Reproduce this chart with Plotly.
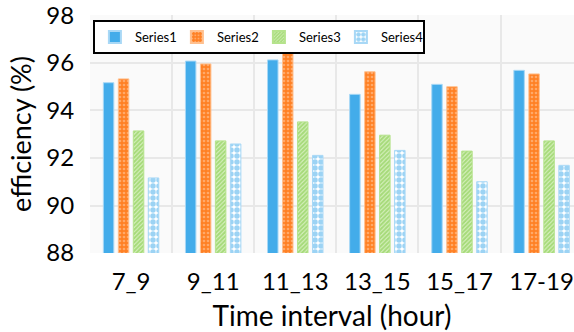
import plotly.graph_objects as go

# Time intervals (hours) and efficiency values (%) for each series
categories = ["7_9", "9_11", "11_13", "13_15", "15_17", "17-19"]
series1 = [95.17, 96.08, 96.13, 94.68, 95.10, 95.69]
series2 = [95.33, 95.96, 96.40, 95.63, 95.00, 95.54]
series3 = [93.14, 92.72, 93.52, 92.96, 92.29, 92.72]
series4 = [91.16, 92.59, 92.11, 92.32, 91.00, 91.69]
y_ticks = [88, 90, 92, 94, 96, 98]

FONT = "Lato"

fig = go.Figure()

fig.add_bar(
    name="Series1", x=categories, y=series1,
    marker=dict(color="#43ACEA", line=dict(color="#A8D8F6", width=1)),
)
fig.add_bar(
    name="Series2", x=categories, y=series2,
    marker=dict(
        color="#FF8024",
        line=dict(color="#FFC08F", width=1),
        pattern=dict(shape=".", fillmode="overlay", fgcolor="#FFD2AE",
                     size=4, solidity=0.35),
    ),
)
fig.add_bar(
    name="Series3", x=categories, y=series3,
    marker=dict(
        color="#DDF2C8",
        line=dict(color="#B5E38C", width=1),
        pattern=dict(shape="/", fillmode="overlay", fgcolor="#70C42C",
                     size=3, solidity=0.7),
    ),
)
fig.add_bar(
    name="Series4", x=categories, y=series4,
    marker=dict(
        color="#FFFFFF",
        line=dict(color="#A8D8F6", width=1),
        pattern=dict(shape=".", fillmode="overlay", fgcolor="#3AA8EA",
                     size=6, solidity=0.65),
    ),
)

fig.update_layout(
    width=574, height=332,
    margin=dict(l=90, r=0, t=15, b=79),
    paper_bgcolor="white",
    plot_bgcolor="#FAFAFA",
    barmode="group",
    bargap=0.27,
    bargroupgap=0.3,
    font=dict(family=FONT, color="black"),
    legend=dict(
        orientation="h",
        x=0.006, y=0.979, xanchor="left", yanchor="top",
        bgcolor="white", bordercolor="black", borderwidth=2,
        font=dict(size=13, family=FONT),
        entrywidth=37, entrywidthmode="pixels",
        itemsizing="constant",
    ),
    xaxis=dict(
        type="category",
        range=[-0.5, 5.395],
        tickson="boundaries",
        automargin=False,
        showgrid=True, gridcolor="#E8E8E8", gridwidth=2,
        ticks="", ticklabelstandoff=12,
        tickfont=dict(size=24),
        showline=False, zeroline=False,
        title=dict(text="Time interval (hour)", font=dict(size=28), standoff=23),
    ),
    yaxis=dict(
        range=[88, 98.02],
        tickvals=y_ticks,
        automargin=False,
        ticklabeloverflow="allow",
        showgrid=True, gridcolor="#E8E8E8", gridwidth=2,
        ticks="outside", ticklen=10, tickcolor="rgba(0,0,0,0)",
        tickfont=dict(size=24),
        showline=False, zeroline=False,
        title=dict(text="efficiency (%)", font=dict(size=27), standoff=6),
    ),
)

fig.write_html("out.html")
